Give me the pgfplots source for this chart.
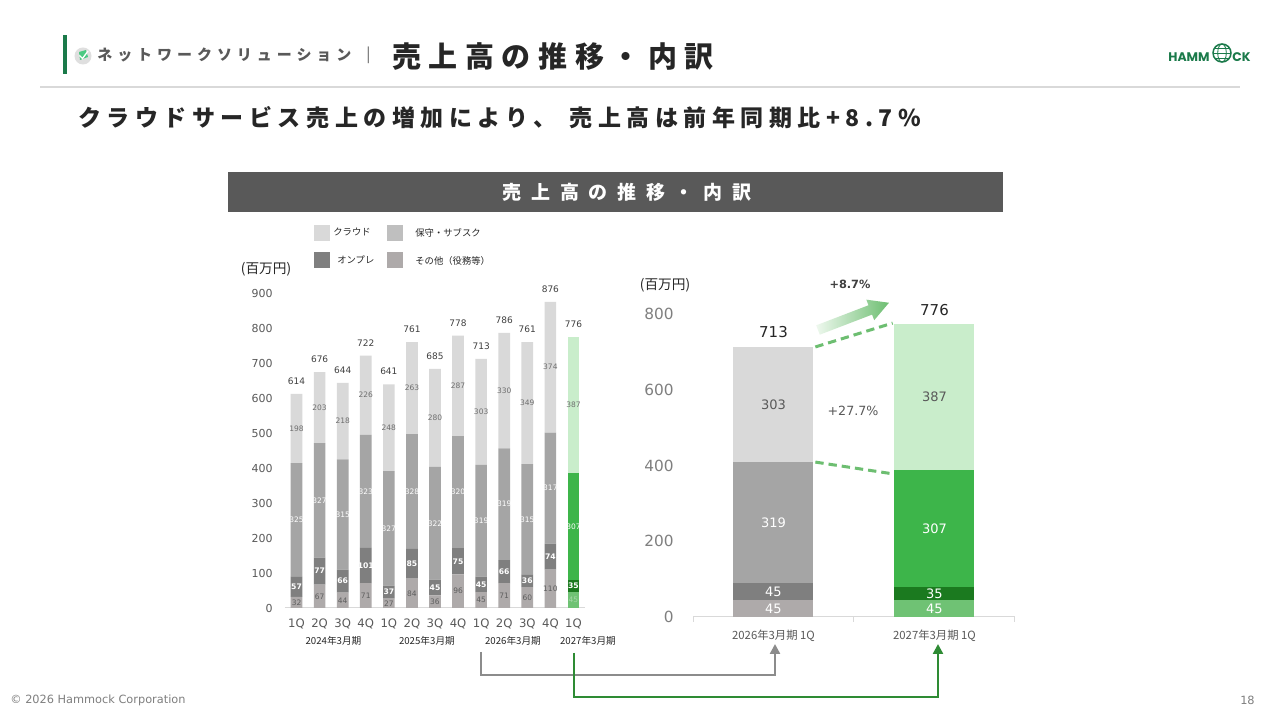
\documentclass[border=0pt]{standalone}
\usepackage{fontspec}
\setmainfont{Noto Sans CJK JP}
\newfontfamily\dv{DejaVu Sans}
\newfontfamily\jpHead[LetterSpace=33]{Noto Sans CJK JP}
\newfontfamily\jpTitle[LetterSpace=26]{Noto Sans CJK JP}
\newfontfamily\jpSub[LetterSpace=24]{Noto Sans CJK JP}
\newfontfamily\jpBar[LetterSpace=51]{Noto Sans CJK JP}
\newfontfamily\logofont{Poppins}
\usepackage{pgfplots}
\usepackage{pgfplotstable}
\pgfplotsset{compat=1.18}
\usetikzlibrary{arrows.meta}

\definecolor{cS}{HTML}{AEAAAA}
\definecolor{cO}{HTML}{7F7F7F}
\definecolor{cH}{HTML}{A5A5A5}
\definecolor{cC}{HTML}{D9D9D9}
\definecolor{gS}{HTML}{6FC274}
\definecolor{gO}{HTML}{1B7A1F}
\definecolor{gH}{HTML}{3DB54A}
\definecolor{gC}{HTML}{C9EDCB}
\definecolor{txt}{HTML}{262626}
\definecolor{tgray}{HTML}{595959}
\definecolor{lgray}{HTML}{7F7F7F}
\definecolor{hgreen}{HTML}{1B7A4A}
\definecolor{dashg}{HTML}{6DBE71}
\definecolor{conng}{HTML}{2E8B34}
\definecolor{conny}{HTML}{8C8C8C}
\definecolor{barbg}{HTML}{595959}
\definecolor{legH}{HTML}{BFBFBF}
\definecolor{lab1}{HTML}{6E6E6E}
\definecolor{lab0}{HTML}{5E5E5E}
\definecolor{lab2}{HTML}{404040}
\definecolor{labg}{HTML}{A5D6A7}
\definecolor{arrL}{HTML}{EEF8EE}

\pgfplotstableread{
x s o h c t
0 32 57 325 198 614
1 67 77 327 203 676
2 44 66 315 218 644
3 71 101 323 226 722
4 27 37 327 248 641
5 84 85 328 263 761
6 36 45 322 280 685
7 96 75 320 287 778
8 45 45 319 303 713
9 71 66 319 330 786
10 60 36 315 349 761
11 110 74 317 374 876
}\tabLgray
\pgfplotstableread{
x s o h c t
12 45 35 307 387 776
}\tabLgreen
\pgfplotstableread{
x s o h c t
0 45 45 319 303 713
}\tabRgray
\pgfplotstableread{
x s o h c t
1 45 35 307 387 776
}\tabRgreen

% #1 table, #2 column, #3 fill, #4 unused, #5 label style
\newcommand\seg[5]{%
\addplot[fill=#3, draw=none,
  every node near coord/.style={#5, anchor=center, inner sep=0pt}]
  table[x=x, y=#2, meta=#2] {#1};}
% totals: #1 table, #2 yshift, #3 style
\newcommand\tot[3]{%
\addplot[draw=none, mark=none, nodes near coords, point meta=explicit symbolic,
  every node near coord/.style={#3, anchor=center, inner sep=0pt, yshift=#2}]
  table[x=x, y expr=\thisrow{s}+\thisrow{o}+\thisrow{h}+\thisrow{c}, meta=t] {#1};}

\pgfplotsset{
  leftbase/.style={
    scale only axis, width=180pt, height=189pt,
    xmin=-0.5, xmax=12.5, ymin=0, ymax=900, clip=false,
  },
  leftax/.style={leftbase,
    ybar stacked, bar width=7pt,
    nodes near coords, point meta=explicit symbolic,
    axis x line*=bottom, axis y line*=left,
    x axis line style={draw=cC, line width=0.6pt},
    y axis line style={draw=none},
    xtick style={draw=none}, ytick style={draw=none},
    major tick length=0pt,
  },
  rightbase/.style={
    scale only axis, width=193.2pt, height=181.8pt,
    xmin=-0.5, xmax=1.5, ymin=0, ymax=800, clip=false,
  },
  rightax/.style={rightbase,
    ybar stacked, bar width=48pt,
    nodes near coords, point meta=explicit symbolic,
    axis x line*=bottom, axis y line*=left,
    x axis line style={draw=cC, line width=0.6pt},
    y axis line style={draw=none},
    xtick style={draw=none}, ytick style={draw=none},
    major tick length=0pt,
  },
}

\begin{document}
\begin{tikzpicture}
\begin{scope}[x=0.6pt,y=0.6pt]
\fill[white] (0,0) rectangle (1280,720);
\path[use as bounding box] (0,0) rectangle (1280,720);
% header
\fill[hgreen] (63,720-35) rectangle (67,720-74);
\fill[gray!25] (83,720-56) circle (8.5);
\fill[teal!60!green!70] (80,720-60) -- (88,720-57) -- (86,720-50) -- (79,720-52) -- cycle;
\draw[white, line width=0.8pt] (79.5,720-55.5) -- (82.5,720-58.5) -- (88,720-51);
\node[anchor=west, inner sep=0pt, font=\jpHead\fontsize{9pt}{9pt}\selectfont\bfseries, text=tgray] at (97,720-55) {ネットワークソリューション};
\node[anchor=west, inner sep=0pt, font=\fontsize{9pt}{9pt}\selectfont, text=tgray] at (366,720-55) {|};
\node[anchor=west, inner sep=0pt, font=\jpTitle\fontsize{17.4pt}{17.4pt}\selectfont\bfseries, text=txt] at (392,720-57) {売上高の推移・内訳};
\draw[cC, line width=0.8pt] (40,720-87) -- (1240,720-87);
\node[anchor=west, inner sep=0pt, font=\jpSub\fontsize{13.8pt}{13.8pt}\selectfont\bfseries, text=txt] at (78,720-118) {クラウドサービス売上の増加により、\hspace{8pt}売上高は前年同期比+8.7\%};
% logo
\node[anchor=east, inner sep=0pt, font=\logofont\fontsize{7.5pt}{7.5pt}\selectfont\bfseries, text=hgreen] at (1210,720-57) {HAMM};
\draw[hgreen, line width=0.9pt] (1222,720-53) circle (9);
\draw[hgreen, line width=0.5pt] (1222,720-53) ellipse (4.3 and 9);
\draw[hgreen, line width=0.5pt] (1213,720-53) -- (1231,720-53);
\draw[hgreen, line width=0.5pt] (1214.5,720-48) -- (1229.5,720-48);
\draw[hgreen, line width=0.5pt] (1214.5,720-58) -- (1229.5,720-58);
\node[anchor=west, inner sep=0pt, font=\logofont\fontsize{7.5pt}{7.5pt}\selectfont\bfseries, text=hgreen] at (1232,720-57) {CK};
% footer
\node[anchor=west, inner sep=0pt, font=\dv\fontsize{6.8pt}{6.8pt}\selectfont, text=lgray] at (10,720-700) {© 2026 Hammock Corporation};
\node[anchor=east, inner sep=0pt, font=\dv\fontsize{6.8pt}{6.8pt}\selectfont, text=lgray] at (1255,720-700) {18};
% chart title bar
\fill[barbg] (228,720-172) rectangle (1003,720-212);
\node[inner sep=0pt, font=\jpBar\fontsize{11.4pt}{11.4pt}\selectfont\bfseries, text=white] at (627,720-192) {売上高の推移・内訳};
% legend
\fill[cC] (314,720-225) rectangle (330,720-241);
\node[anchor=west, inner sep=0pt, font=\fontsize{5.6pt}{5.6pt}\selectfont, text=txt] at (333,720-232) {クラウド};
\fill[legH] (387,720-225) rectangle (403,720-241);
\node[anchor=west, inner sep=0pt, font=\fontsize{5.6pt}{5.6pt}\selectfont, text=txt] at (415,720-233) {保守・サブスク};
\fill[cO] (314,720-252) rectangle (330,720-268);
\node[anchor=west, inner sep=0pt, font=\fontsize{5.6pt}{5.6pt}\selectfont, text=txt] at (337,720-260) {オンプレ};
\fill[cS] (387,720-252) rectangle (403,720-268);
\node[anchor=west, inner sep=0pt, font=\fontsize{5.6pt}{5.6pt}\selectfont, text=txt] at (415,720-261) {その他（役務等）};
% units
\node[inner sep=0pt, font=\fontsize{8.2pt}{8.2pt}\selectfont, text=txt] at (266,720-269) {(百万円)};
\node[inner sep=0pt, font=\fontsize{8.2pt}{8.2pt}\selectfont, text=txt] at (665,720-285) {(百万円)};
\end{scope}

% ---------------- left chart (gray) ----------------
\begin{axis}[leftax, at={(171pt,67.2pt)}, anchor=south west,
  ytick={0,100,...,900},
  xtick={0,...,12},
  xticklabels={1Q,2Q,3Q,4Q,1Q,2Q,3Q,4Q,1Q,2Q,3Q,4Q,1Q},
  /pgf/number format/assume math mode=true,
  yticklabel style={font=\dv\fontsize{6.6pt}{6.6pt}\selectfont, text=tgray, anchor=east, inner sep=0pt, xshift=-7.2pt},
  xticklabel style={font=\dv\fontsize{7pt}{7pt}\selectfont, text=tgray, anchor=center, inner sep=0pt, yshift=-9.6pt},
]
\seg{\tabLgray}{s}{cS}{0}{font=\dv\fontsize{4.5pt}{4.5pt}\selectfont, text=lab0}
\seg{\tabLgray}{o}{cO}{0}{font=\dv\fontsize{4.6pt}{4.6pt}\selectfont\bfseries, text=white}
\seg{\tabLgray}{h}{cH}{0}{font=\dv\fontsize{4.5pt}{4.5pt}\selectfont, text=white}
\seg{\tabLgray}{c}{cC}{0}{font=\dv\fontsize{4.5pt}{4.5pt}\selectfont, text=lab1}
\node[inner sep=0pt, font=\fontsize{5.8pt}{5.8pt}\selectfont, text=txt] at (axis cs:1.6,0) [yshift=-19.4pt] {2024年3月期};
\node[inner sep=0pt, font=\fontsize{5.8pt}{5.8pt}\selectfont, text=txt] at (axis cs:5.65,0) [yshift=-19.4pt] {2025年3月期};
\node[inner sep=0pt, font=\fontsize{5.8pt}{5.8pt}\selectfont, text=txt] at (axis cs:9.38,0) [yshift=-19.4pt] {2026年3月期};
\node[inner sep=0pt, font=\fontsize{5.8pt}{5.8pt}\selectfont, text=txt] at (axis cs:12.63,0) [yshift=-19.4pt] {2027年3月期};
\end{axis}
% ---------------- left chart (green) ----------------
\begin{axis}[leftax, at={(171pt,67.2pt)}, anchor=south west, hide axis]
\seg{\tabLgreen}{s}{gS}{0}{font=\dv\fontsize{4.5pt}{4.5pt}\selectfont, text=labg}
\seg{\tabLgreen}{o}{gO}{0}{font=\dv\fontsize{4.6pt}{4.6pt}\selectfont\bfseries, text=white}
\seg{\tabLgreen}{h}{gH}{0}{font=\dv\fontsize{4.5pt}{4.5pt}\selectfont, text=white}
\seg{\tabLgreen}{c}{gC}{0}{font=\dv\fontsize{4.5pt}{4.5pt}\selectfont, text=lab1}
\end{axis}
% ---------------- left chart totals ----------------
\begin{axis}[leftbase, at={(171pt,67.2pt)}, anchor=south west, hide axis]
\tot{\tabLgray}{7.6pt}{font=\dv\fontsize{5.4pt}{5.4pt}\selectfont, text=lab2}
\tot{\tabLgreen}{7.6pt}{font=\dv\fontsize{5.4pt}{5.4pt}\selectfont, text=lab2}
\end{axis}

% ---------------- right chart (gray) ----------------
\begin{axis}[rightax, at={(415.8pt,61.8pt)}, anchor=south west,
  ytick={0,200,...,800},
  xtick={0,1},
  xticklabels={2026年3月期 1Q,2027年3月期 1Q},
  /pgf/number format/assume math mode=true,
  yticklabel style={font=\dv\fontsize{9.2pt}{9.2pt}\selectfont, text=lgray, anchor=east, inner sep=0pt, xshift=-11.4pt},
  xticklabel style={font=\fontsize{6.8pt}{6.8pt}\selectfont, text=tgray, anchor=center, inner sep=0pt, yshift=-11.4pt},
]
\seg{\tabRgray}{s}{cS}{0}{font=\dv\fontsize{7.8pt}{7.8pt}\selectfont, text=white}
\seg{\tabRgray}{o}{cO}{0}{font=\dv\fontsize{7.8pt}{7.8pt}\selectfont, text=white}
\seg{\tabRgray}{h}{cH}{0}{font=\dv\fontsize{7.8pt}{7.8pt}\selectfont, text=white}
\seg{\tabRgray}{c}{cC}{0}{font=\dv\fontsize{7.8pt}{7.8pt}\selectfont, text=tgray}
\draw[cC, line width=0.6pt] (axis cs:0.5,0) -- ([yshift=-3pt]axis cs:0.5,0);
\draw[cC, line width=0.6pt] (axis cs:-0.5,0) -- ([yshift=-3pt]axis cs:-0.5,0);
\draw[cC, line width=0.6pt] (axis cs:1.5,0) -- ([yshift=-3pt]axis cs:1.5,0);
\draw[dashg, line width=1.8pt, dash pattern=on 5pt off 3pt] (axis cs:0.26,713) -- (axis cs:0.74,776);
\draw[dashg, line width=1.8pt, dash pattern=on 5pt off 3pt] (axis cs:0.26,409) -- (axis cs:0.74,378);
\end{axis}
% ---------------- right chart (green) ----------------
\begin{axis}[rightax, at={(415.8pt,61.8pt)}, anchor=south west, hide axis]
\seg{\tabRgreen}{s}{gS}{0}{font=\dv\fontsize{7.8pt}{7.8pt}\selectfont, text=white}
\seg{\tabRgreen}{o}{gO}{0}{font=\dv\fontsize{7.8pt}{7.8pt}\selectfont, text=white}
\seg{\tabRgreen}{h}{gH}{0}{font=\dv\fontsize{7.8pt}{7.8pt}\selectfont, text=white}
\seg{\tabRgreen}{c}{gC}{0}{font=\dv\fontsize{7.8pt}{7.8pt}\selectfont, text=tgray}
\end{axis}
% ---------------- right chart totals ----------------
\begin{axis}[rightbase, at={(415.8pt,61.8pt)}, anchor=south west, hide axis]
\tot{\tabRgray}{9pt}{font=\dv\fontsize{9pt}{9pt}\selectfont, text=txt}
\tot{\tabRgreen}{8.4pt}{font=\dv\fontsize{9pt}{9pt}\selectfont, text=txt}
\end{axis}

\begin{scope}[x=0.6pt,y=0.6pt]
% growth arrow
\begin{scope}[shift={(818,720-330)}, rotate=21]
\shade[left color=arrL, right color=dashg] (0,-5) -- (56,-5) -- (56,-11) -- (76,0) -- (56,11) -- (56,5) -- (0,5) -- cycle;
\end{scope}
\node[inner sep=0pt, font=\dv\fontsize{6.8pt}{6.8pt}\selectfont\bfseries, text=lab2] at (850,720-284) {+8.7\%};
\node[inner sep=0pt, font=\dv\fontsize{7.6pt}{7.6pt}\selectfont, text=tgray] at (853,720-411) {+27.7\%};
% connectors
\draw[conny, line width=1.4pt, -{Triangle[length=6pt,width=6pt]}] (481,720-652) -- (481,720-675) -- (775,720-675) -- (775,720-644);
\draw[conng, line width=1.4pt, -{Triangle[length=6pt,width=6pt]}] (574,720-653) -- (574,720-697) -- (938,720-697) -- (938,720-644);
\end{scope}
\end{tikzpicture}
\end{document}
